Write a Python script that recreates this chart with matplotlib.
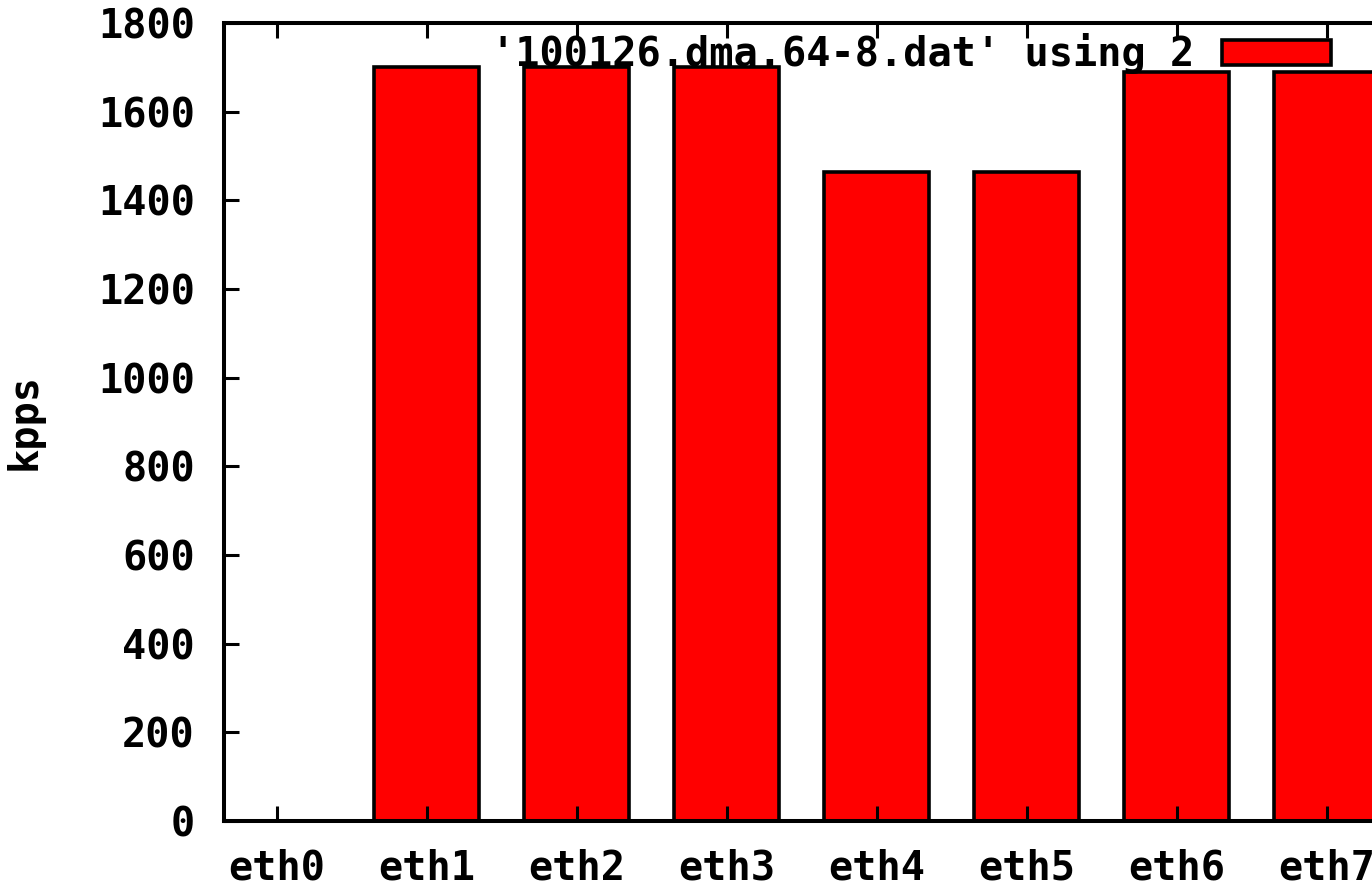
import numpy as np
import matplotlib.pyplot as plt
from matplotlib.patches import Patch

plt.switch_backend('agg')
plt.rcParams['font.family'] = ['DejaVu Sans Mono']
plt.rcParams['font.weight'] = 'bold'

FONT_SIZE = 29

names = ["eth0", "eth1", "eth2", "eth3", "eth4", "eth5", "eth6", "eth7"]
kpps = [0, 1700, 1700, 1700, 1465, 1465, 1690, 1690]
yticks = [0, 200, 400, 600, 800, 1000, 1200, 1400, 1600, 1800]
legend_label = "'100126.dma.64-8.dat' using 2"

W, H = 1372, 886


def main():
    fig = plt.figure(figsize=(W / 100, H / 100), dpi=100)
    # axes box in pixels: left 224, top 23, bottom 821, right runs past the edge
    ax_w = 1379 - 224
    ax = fig.add_axes([224 / W, 1 - 821 / H, ax_w / W, (821 - 23) / H])

    x = np.arange(len(names))
    ax.bar(x, kpps, width=0.7, color="#ff0000", edgecolor="black", linewidth=2.6)

    ax.set_xlim(-0.35, 7.35)
    ax.set_ylim(0, 1800)
    ax.set_xticks(x)
    ax.set_xticklabels(names, fontsize=FONT_SIZE)
    ax.set_yticks(yticks)
    ax.set_yticklabels([str(v) for v in yticks], fontsize=FONT_SIZE)
    ax.tick_params(axis="both", direction="in", length=11, width=2.2,
                   top=True, right=False)
    ax.tick_params(axis="x", pad=20)
    ax.tick_params(axis="y", pad=21)
    for s in ax.spines.values():
        s.set_linewidth(2.9)

    ax.set_ylabel("kpps", fontsize=FONT_SIZE, fontweight="bold")
    ax.yaxis.set_label_coords((44 - 224) / ax_w, 0.5)

    handle = Patch(facecolor="#ff0000", edgecolor="black", linewidth=2.6)
    ax.legend([handle], [legend_label], loc="center right",
              bbox_to_anchor=(1331 / W, 1 - 54 / H), bbox_transform=fig.transFigure,
              frameon=False, markerfirst=False, fontsize=FONT_SIZE,
              handlelength=2.7, handleheight=0.58, handletextpad=0.7,
              borderpad=0, borderaxespad=0)

    fig.savefig("out.png", dpi=100)


if __name__ == '__main__':
    main()
